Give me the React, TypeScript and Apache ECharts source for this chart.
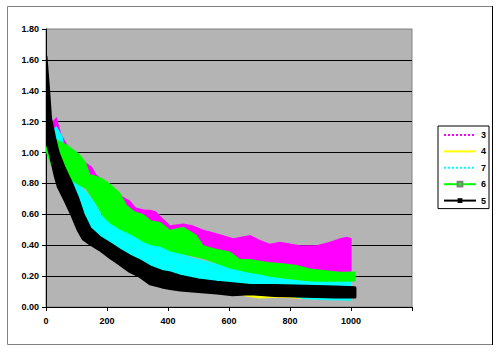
import React, { useEffect, useRef } from "react";
import * as echarts from "echarts";

// Series "3" (magenta) envelope
const s3X = [0, 20, 35, 50, 70, 100, 134, 150, 165, 200, 230, 255, 275, 295, 325, 341, 360, 380, 407, 450, 480, 516, 560, 614, 669, 702, 734, 767, 833, 887, 931, 964, 986, 1002];
const s3High = [1.10, 1.20, 1.23, 1.12, 1.05, 0.98, 0.93, 0.91, 0.86, 0.80, 0.75, 0.71, 0.69, 0.645, 0.63, 0.63, 0.62, 0.58, 0.53, 0.54, 0.53, 0.50, 0.477, 0.445, 0.466, 0.434, 0.41, 0.423, 0.40, 0.40, 0.423, 0.445, 0.455, 0.445];
const s3Low = [1.00, 1.05, 1.05, 1.00, 0.95, 0.92, 0.85, 0.82, 0.80, 0.74, 0.70, 0.62, 0.60, 0.58, 0.54, 0.52, 0.50, 0.48, 0.45, 0.45, 0.42, 0.38, 0.35, 0.32, 0.28, 0.27, 0.26, 0.25, 0.24, 0.23, 0.22, 0.22, 0.22, 0.23];

// Series "4" (yellow) envelope
const s4X = [30, 84, 155, 253, 363, 472, 560, 603, 650, 700, 760, 820, 880, 950, 1002];
const s4High = [1.05, 0.75, 0.55, 0.42, 0.30, 0.24, 0.26, 0.24, 0.20, 0.17, 0.16, 0.15, 0.15, 0.15, 0.15];
const s4Low = [0.95, 0.65, 0.45, 0.30, 0.19, 0.14, 0.12, 0.11, 0.07, 0.055, 0.06, 0.055, 0.05, 0.05, 0.05];

// Series "7" (cyan) envelope
const s7X = [20, 35, 55, 70, 84, 122, 155, 183, 210, 253, 286, 319, 363, 407, 472, 538, 603, 669, 734, 800, 850, 900, 1002];
const s7High = [1.15, 1.17, 1.10, 0.90, 0.83, 0.77, 0.69, 0.595, 0.55, 0.50, 0.465, 0.43, 0.40, 0.37, 0.325, 0.29, 0.26, 0.225, 0.20, 0.18, 0.17, 0.168, 0.168];
const s7Low = [1.05, 0.98, 0.88, 0.80, 0.72, 0.58, 0.48, 0.42, 0.38, 0.32, 0.27, 0.23, 0.19, 0.17, 0.14, 0.12, 0.10, 0.085, 0.078, 0.07, 0.05, 0.045, 0.04];

// Series "6" (green) envelope
const s6X = [0, 15, 30, 50, 70, 90, 110, 130, 145, 165, 187, 210, 243, 265, 290, 320, 345, 375, 407, 450, 494, 516, 560, 603, 636, 669, 702, 734, 778, 822, 866, 909, 964, 1015];
const s6High = [1.08, 1.10, 1.09, 1.07, 1.05, 1.02, 0.99, 0.94, 0.86, 0.85, 0.83, 0.80, 0.74, 0.66, 0.62, 0.60, 0.56, 0.55, 0.50, 0.52, 0.466, 0.40, 0.375, 0.36, 0.31, 0.31, 0.30, 0.29, 0.283, 0.272, 0.25, 0.24, 0.229, 0.23];
const s6Low = [1.00, 0.92, 0.88, 0.86, 0.84, 0.81, 0.785, 0.765, 0.72, 0.66, 0.585, 0.54, 0.50, 0.48, 0.455, 0.42, 0.40, 0.39, 0.36, 0.34, 0.32, 0.31, 0.28, 0.25, 0.235, 0.22, 0.21, 0.196, 0.185, 0.175, 0.165, 0.164, 0.164, 0.165];

// Series "5" (black) envelope
const s5X = [0, 8, 15, 30, 40, 60, 84, 105, 122, 144, 177, 210, 240, 275, 306, 341, 380, 407, 440, 500, 560, 612, 670, 750, 850, 950, 1013];
const s5High = [1.62, 1.42, 1.22, 1.08, 1.00, 0.90, 0.80, 0.70, 0.60, 0.51, 0.45, 0.41, 0.37, 0.33, 0.30, 0.26, 0.23, 0.22, 0.20, 0.175, 0.16, 0.15, 0.14, 0.14, 0.135, 0.13, 0.125];
const s5Low = [1.08, 1.03, 0.98, 0.85, 0.78, 0.70, 0.60, 0.50, 0.44, 0.41, 0.37, 0.32, 0.28, 0.23, 0.20, 0.15, 0.13, 0.12, 0.11, 0.10, 0.09, 0.08, 0.085, 0.075, 0.07, 0.065, 0.065];

const legendNames = ["3", "4", "7", "6", "5"];
const yMax = 1.8;
const yStep = 0.2;
const xMax = 1200;
const xStep = 200;

const FONT = "'Liberation Sans', Arial, sans-serif";

function band(key: string, xs: number[], lo: number[], hi: number[], color: string, edge: number) {
  const data = xs.map((x, i) => [x, lo[i], hi[i]]);
  return {
    type: "custom",
    name: key,
    silent: true,
    z: 2,
    encode: { x: 0, y: [1, 2] },
    data,
    renderItem: (params: any, api: any) => {
      if (params.dataIndex !== 0) return null;
      const upper = xs.map((x, i) => api.coord([x, hi[i]]));
      const lower = xs.map((x, i) => api.coord([x, lo[i]])).reverse();
      const cs = params.coordSys;
      return {
        type: "polygon",
        shape: { points: upper.concat(lower) },
        style: { fill: color, stroke: edge > 0 ? color : "none", lineWidth: edge, lineJoin: "round" },
        clipPath: { type: "rect", shape: { x: cs.x, y: cs.y, width: cs.width, height: cs.height } },
      };
    },
  };
}

export default function App() {
  const ref = useRef<HTMLDivElement>(null);
  useEffect(() => {
    if (!ref.current) return;
    const chart = echarts.init(ref.current, null, { renderer: "svg" });
    const labelStyle = { fontSize: 9, fontWeight: "bold" as const, color: "#000", fontFamily: FONT };
    chart.setOption({
      animation: false,
      backgroundColor: "#fff",
      textStyle: { fontFamily: FONT },
      grid: {
        left: 46,
        top: 29,
        right: 88,
        bottom: 45,
        show: true,
        backgroundColor: "#b4b4b4",
        borderColor: "#808080",
        borderWidth: 1,
      },
      xAxis: {
        type: "value",
        min: 0,
        max: xMax,
        interval: xStep,
        axisLine: { show: true, onZero: false, lineStyle: { color: "#000", width: 1 } },
        axisTick: { show: true, length: 4, lineStyle: { color: "#000" } },
        axisLabel: { ...labelStyle, margin: 9, formatter: (v: number) => (v >= xMax ? "" : String(v)) },
        splitLine: { show: false },
      },
      yAxis: {
        type: "value",
        min: 0,
        max: yMax,
        interval: yStep,
        axisLine: { show: true, lineStyle: { color: "#000", width: 1 } },
        axisTick: { show: true, length: 4, lineStyle: { color: "#000" } },
        axisLabel: { ...labelStyle, margin: 7, formatter: (v: number) => v.toFixed(2) },
        splitLine: { show: true, showMaxLine: false, lineStyle: { color: "#000", width: 1 } },
      },
      legend: {
        data: legendNames,
        orient: "vertical",
        left: 438,
        top: 126,
        itemWidth: 32,
        itemHeight: 6,
        itemGap: 4.4,
        itemTextGap: 4,
        padding: [3, 3, 2, 5],
        borderColor: "#000",
        borderWidth: 1,
        selectedMode: false,
        textStyle: { ...labelStyle, lineHeight: 12 },
      },
      graphic: [
        {
          type: "rect",
          silent: true,
          shape: { x: 7.5, y: 6.5, width: 485, height: 338 },
          style: { fill: "none", stroke: "#808080", lineWidth: 1 },
        },
        {
          type: "line",
          silent: true,
          shape: { x1: 492.5, y1: 6, x2: 492.5, y2: 345 },
          style: { stroke: "#000", lineWidth: 1 },
        },
      ],
      series: [
        band("b3", s3X, s3Low, s3High, "#ff00ff", 0),
        band("b4", s4X, s4Low, s4High, "#ffff00", 0),
        band("b7", s7X, s7Low, s7High, "#00ffff", 0),
        band("b6", s6X, s6Low, s6High, "#00ff00", 0),
        band("b5", s5X, s5Low, s5High, "#000000", 3),
        { type: "line", name: "3", data: [], symbol: "none", lineStyle: { color: "#ff00ff", type: "dotted", width: 2 }, itemStyle: { color: "#ff00ff", opacity: 0 } },
        { type: "line", name: "4", data: [], symbol: "none", lineStyle: { color: "#ffff00", width: 1 }, itemStyle: { color: "#ffff00", opacity: 0 } },
        { type: "line", name: "7", data: [], symbol: "none", lineStyle: { color: "#00ffff", type: "dotted", width: 2 }, itemStyle: { color: "#00ffff", opacity: 0 } },
        { type: "line", name: "6", data: [], symbol: "rect", symbolSize: 6, lineStyle: { color: "#00ff00", width: 2 }, itemStyle: { color: "#00ff00", borderColor: "#808080", borderWidth: 1 } },
        { type: "line", name: "5", data: [], symbol: "rect", symbolSize: 6, lineStyle: { color: "#000000", width: 1 }, itemStyle: { color: "#000000" } },
      ],
    });
    return () => chart.dispose();
  }, []);
  return <div ref={ref} style={{ position: "fixed", left: 0, top: 0, width: 500, height: 352, background: "#fff" }} />;
}
